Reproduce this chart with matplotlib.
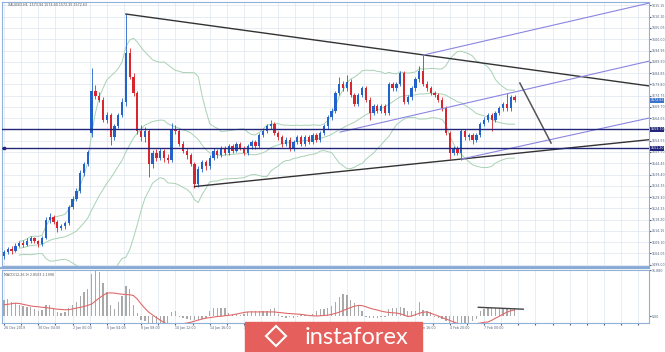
import numpy as np
import pandas as pd
import matplotlib
matplotlib.use('Agg')
import matplotlib.pyplot as plt
from matplotlib.patches import Rectangle, Polygon

# XAUUSD H4 candles
opens = [1503.0, 1504.5, 1506.0, 1505.2, 1507.5, 1508.8, 1507.9, 1509.6, 1510.8, 1509.4,
         1508.2, 1511.0, 1519.0, 1520.5, 1518.0, 1515.5, 1516.2, 1517.5, 1524.8, 1528.5,
         1532.0, 1540.0, 1544.0, 1558.0, 1577.0, 1574.5, 1573.0, 1564.0, 1566.0, 1556.0,
         1561.0, 1566.0, 1572.0, 1594.0, 1583.0, 1576.0, 1559.0, 1556.0, 1559.0, 1544.0,
         1549.0, 1547.0, 1550.0, 1547.0, 1546.0, 1560.0, 1558.8, 1553.0, 1550.0, 1548.0,
         1544.0, 1535.0, 1542.0, 1545.0, 1543.0, 1547.0, 1550.0, 1548.0, 1551.0, 1549.0,
         1552.0, 1550.0, 1553.0, 1551.0, 1549.0, 1552.0, 1554.0, 1552.0, 1557.0, 1559.0,
         1561.0, 1562.0, 1558.0, 1556.0, 1553.0, 1555.0, 1551.0, 1554.0, 1556.0, 1553.0,
         1556.0, 1554.0, 1557.0, 1555.0, 1558.0, 1561.0, 1565.0, 1568.0, 1576.0, 1580.0,
         1578.0, 1581.0, 1575.0, 1571.0, 1575.0, 1578.0, 1573.0, 1567.0, 1570.0, 1568.0,
         1570.0, 1567.0, 1580.0, 1578.0, 1580.0, 1585.0, 1572.0, 1574.0, 1578.0, 1582.0,
         1586.0, 1580.0, 1578.0, 1576.0, 1575.0, 1573.0, 1569.0, 1558.0, 1549.0, 1551.0,
         1549.0, 1559.0, 1556.0, 1557.0, 1555.0, 1557.0, 1562.0, 1564.0, 1566.0, 1564.0,
         1567.0, 1569.0, 1571.0, 1569.0, 1574.0]
highs = [1505.5, 1507.0, 1507.2, 1508.5, 1509.8, 1510.0, 1510.8, 1512.0, 1511.6, 1510.2,
         1512.0, 1520.2, 1522.0, 1521.4, 1519.0, 1517.4, 1518.6, 1525.8, 1529.6, 1533.2,
         1541.2, 1545.2, 1550.5, 1587.0, 1579.5, 1576.5, 1574.0, 1567.2, 1567.0, 1562.0,
         1567.0, 1573.5, 1611.3, 1596.0, 1585.0, 1577.0, 1561.5, 1560.5, 1560.0, 1550.5,
         1551.0, 1551.5, 1551.0, 1548.5, 1562.5, 1561.5, 1559.8, 1554.5, 1551.5, 1549.2,
         1545.0, 1543.0, 1546.0, 1546.0, 1548.0, 1551.2, 1551.0, 1552.0, 1552.0, 1553.0,
         1553.0, 1554.0, 1554.0, 1552.0, 1553.0, 1555.0, 1555.0, 1558.0, 1560.0, 1562.0,
         1564.0, 1563.0, 1559.0, 1557.0, 1556.0, 1556.0, 1555.0, 1557.0, 1557.0, 1557.0,
         1557.0, 1558.0, 1558.0, 1559.0, 1562.0, 1566.0, 1569.0, 1577.0, 1583.0, 1581.5,
         1584.0, 1582.0, 1576.0, 1576.0, 1579.0, 1579.0, 1574.0, 1571.0, 1571.0, 1571.0,
         1571.0, 1581.0, 1581.0, 1581.0, 1586.0, 1586.0, 1575.0, 1579.0, 1583.0, 1588.0,
         1593.0, 1581.5, 1579.0, 1577.0, 1576.0, 1574.0, 1570.0, 1559.0, 1552.0, 1552.0,
         1560.0, 1560.0, 1558.0, 1558.0, 1558.0, 1563.0, 1565.0, 1567.0, 1567.0, 1568.0,
         1570.0, 1572.0, 1576.0, 1575.0, 1575.0]
lows = [1501.5, 1503.8, 1504.0, 1504.6, 1506.8, 1507.0, 1507.2, 1508.9, 1508.6, 1507.1,
        1507.5, 1510.4, 1517.8, 1517.0, 1513.8, 1514.6, 1515.0, 1516.9, 1523.9, 1527.6,
        1531.2, 1538.8, 1543.0, 1556.0, 1573.2, 1571.8, 1563.0, 1562.5, 1552.5, 1555.0,
        1560.2, 1565.0, 1570.0, 1582.0, 1574.5, 1557.5, 1554.5, 1554.0, 1538.5, 1542.5,
        1545.5, 1545.8, 1545.0, 1544.5, 1545.0, 1557.5, 1552.0, 1549.0, 1546.5, 1543.0,
        1533.5, 1534.0, 1540.5, 1541.5, 1542.0, 1546.0, 1547.0, 1547.2, 1548.0, 1548.2,
        1549.0, 1549.3, 1550.2, 1548.0, 1548.2, 1551.0, 1551.0, 1551.2, 1556.0, 1558.0,
        1560.0, 1557.0, 1555.0, 1551.8, 1552.0, 1549.8, 1550.0, 1553.0, 1552.0, 1552.0,
        1553.0, 1553.0, 1554.0, 1554.0, 1557.0, 1560.0, 1564.0, 1567.0, 1575.0, 1577.0,
        1577.0, 1574.0, 1570.0, 1570.0, 1574.0, 1572.0, 1564.0, 1566.0, 1567.0, 1567.0,
        1566.0, 1566.0, 1577.0, 1577.0, 1579.0, 1571.0, 1571.0, 1573.0, 1577.0, 1581.0,
        1579.0, 1577.0, 1575.0, 1574.0, 1572.0, 1568.0, 1557.0, 1546.5, 1548.0, 1548.0,
        1546.0, 1555.0, 1555.0, 1553.0, 1554.0, 1556.0, 1561.0, 1563.0, 1559.0, 1563.0,
        1566.0, 1568.0, 1568.0, 1568.0, 1572.0]
closes = [1504.5, 1506.0, 1505.2, 1507.5, 1508.8, 1507.9, 1509.6, 1510.8, 1509.4, 1508.2,
          1511.0, 1519.0, 1520.5, 1518.0, 1515.5, 1516.2, 1517.5, 1524.8, 1528.5, 1532.0,
          1540.0, 1544.0, 1549.5, 1577.0, 1574.5, 1573.0, 1564.0, 1566.0, 1556.0, 1561.0,
          1566.0, 1572.0, 1594.0, 1583.0, 1576.0, 1559.0, 1556.0, 1559.0, 1544.0, 1549.0,
          1547.0, 1550.0, 1547.0, 1546.0, 1560.0, 1558.8, 1553.0, 1550.0, 1548.0, 1544.0,
          1535.0, 1542.0, 1545.0, 1543.0, 1547.0, 1550.0, 1548.0, 1551.0, 1549.0, 1552.0,
          1550.0, 1553.0, 1551.0, 1549.0, 1552.0, 1554.0, 1552.0, 1557.0, 1559.0, 1561.0,
          1562.0, 1558.0, 1556.0, 1553.0, 1555.0, 1551.0, 1554.0, 1556.0, 1553.0, 1556.0,
          1554.0, 1557.0, 1555.0, 1558.0, 1561.0, 1565.0, 1568.0, 1576.0, 1580.0, 1578.0,
          1581.0, 1575.0, 1571.0, 1575.0, 1578.0, 1573.0, 1567.0, 1570.0, 1568.0, 1570.0,
          1567.0, 1580.0, 1578.0, 1580.0, 1585.0, 1572.0, 1574.0, 1578.0, 1582.0, 1586.0,
          1580.0, 1578.0, 1576.0, 1575.0, 1573.0, 1569.0, 1558.0, 1549.0, 1551.0, 1549.0,
          1559.0, 1556.0, 1557.0, 1555.0, 1557.0, 1562.0, 1564.0, 1566.0, 1564.0, 1567.0,
          1569.0, 1571.0, 1569.0, 1574.0, 1573.0]

# MACD(12,26,9) main histogram and signal line
macd_main = [6.0, 6.2, 5.2, 4.6, 4.2, 3.6, 3.4, 3.2, 2.4, 2.0,
             2.2, 4.0, 4.2, 2.6, 1.4, 1.2, 1.3, 3.0, 4.0, 5.0,
             7.5, 8.8, 10.0, 15.5, 16.9, 16.0, 12.0, 9.0, 4.0, 2.5,
             5.0, 7.5, 11.0, 10.0, 4.0, 1.0, -1.5, -1.8, -2.8, -3.0,
             -3.2, -3.0, -3.2, -2.8, 1.5, 1.8, -0.5, -0.8, -1.2, -1.3,
             -1.5, -1.4, -1.2, -0.9, 2.0, 2.8, 3.0, 3.1, 3.0, 1.0,
             0.8, 0.6, 0.5, 0.8, 1.6, 1.8, 1.8, 1.9, 2.0, 2.0,
             2.4, 3.0, 0.6, -0.5, -0.6, -0.5, -0.6, -0.4, 0.4, 0.5,
             0.4, 0.6, 2.0, 2.5, 2.6, 3.0, 3.6, 5.0, 7.0, 8.0,
             7.6, 6.0, 4.8, 4.0, 2.0, -0.5, -0.7, -0.6, -0.6, -0.5,
             -0.4, 2.5, 3.0, 3.0, 3.2, 2.8, 2.0, 1.8, 2.0, 5.0,
             2.2, 1.8, 1.6, -0.4, -0.8, -1.2, -1.8, -2.5, -3.0, -3.2,
             -3.3, -3.0, -2.6, -1.8, -1.0, 1.8, 2.4, 2.8, 2.8, 2.8,
             2.9, 2.9, 2.8, 2.9, 2.9]
macd_signal = [4.1, 4.3, 4.5, 4.7, 4.6, 4.3, 4.0, 3.7, 3.5, 3.4,
               3.2, 3.1, 2.9, 2.7, 2.5, 2.4, 2.3, 2.3, 2.6, 2.9,
               3.2, 3.5, 3.9, 4.4, 5.5, 6.6, 7.6, 8.4, 8.5, 8.4,
               8.2, 8.0, 7.9, 7.8, 7.5, 6.2, 4.4, 2.8, 1.4, 0.4,
               -0.6, -1.5, -2.4, -3.0, -3.3, -3.2, -3.0, -2.8, -2.6, -2.3,
               -1.9, -1.5, -1.1, -0.8, -0.6, -0.4, -0.2, -0.1, 0.1, 0.3,
               0.4, 0.7, 1.0, 1.3, 1.5, 1.5, 1.5, 1.5, 1.5, 1.5,
               1.5, 1.5, 1.3, 1.2, 1.0, 0.9, 0.8, 0.7, 0.6, 0.4,
               0.2, 0.1, 0.0, 0.1, 0.2, 0.3, 0.6, 1.0, 1.4, 2.0,
               2.6, 3.1, 3.6, 3.9, 3.8, 3.4, 2.9, 2.5, 2.2, 1.8,
               1.5, 1.3, 1.2, 1.1, 0.8, 0.4, -0.2, 0.0, 0.5, 1.0,
               1.4, 1.5, 1.0, 0.5, 0.0, -0.6, -1.1, -1.6, -2.2, -2.7,
               -3.2, -3.3, -3.2, -3.0, -2.8, -2.6, -2.3, -2.2, -1.6, -0.8,
               -0.1, 0.7, 1.4, 1.9, 2.2]

date_labels = ['26 Dec 2019', '30 Dec 04:00', '2 Jan 00:00', '6 Jan 04:00', '8 Jan 08:00',
               '10 Jan 12:00', '14 Jan 16:00', '16 Jan 20:00', '21 Jan 00:00', '23 Jan 04:00',
               '27 Jan 08:00', '29 Jan 12:00', '31 Jan 16:00', '4 Feb 20:00', '7 Feb 00:00']
price_ticks = [1499.00, 1504.05, 1509.10, 1514.15, 1519.20, 1524.25, 1529.30, 1534.35,
               1539.40, 1544.45, 1549.50, 1554.55, 1559.60, 1564.65, 1569.70, 1574.75,
               1579.80, 1584.85, 1589.90, 1594.95, 1600.00, 1605.05, 1610.10, 1615.15]

# drawn objects: (bar index, price) end points
upper_trend = [(32, 1611.3), (169.3, 1579.1)]
lower_trend = [(50, 1534.0), (169.3, 1555.0)]
channel_top = [(110, 1592.9), (169.3, 1616.2)]
channel_mid = [(88.2, 1558.4), (169.3, 1590.2)]
channel_low = [(120, 1546.3), (169.3, 1564.7)]
arrow_line = [(135.4, 1580.4), (143.6, 1553.5)]
hlines = [1559.7, 1551.2]
current_price = 1572.63
macd_line = [(124.5, 3.2), (136.3, 2.5)]

grid_c = '#dfe5ef'
axis_c = '#8fb0d8'
lab_c = '#4f5f7d'
bull_c = '#2163c8'
bear_c = '#d8262f'
fs = 2.3

fig = plt.figure(figsize=(6.65, 3.52), dpi=100)
ax = fig.add_axes([2/665, 1-266/352, 647/665, 264/352])
axm = fig.add_axes([2/665, 1-323/352, 647/665, 53/352])

xlim = (-0.52, 169.3)
idx = np.arange(len(closes))
o = np.array(opens); h = np.array(highs); l = np.array(lows); c = np.array(closes)
cols = np.where(c >= o, bull_c, bear_c)

# bollinger bands 20, 2
s = pd.Series(closes)
mid = s.rolling(20, min_periods=5).mean()
sd = s.rolling(20, min_periods=5).std(ddof=0)
for band in (mid + 2*sd, mid, mid - 2*sd):
    ax.plot(idx, band, color='#a8d2b4', lw=0.7, zorder=2)

ax.vlines(idx, l, h, colors=cols, lw=0.6, zorder=3)
ax.bar(idx, np.maximum(np.abs(c - o), 0.3), bottom=np.minimum(o, c), width=0.6,
       color=cols, zorder=4)

for ln in (upper_trend, lower_trend):
    ax.plot([p[0] for p in ln], [p[1] for p in ln], color='#333333', lw=1.0, zorder=5)
for ln in (channel_top, channel_mid, channel_low):
    ax.plot([p[0] for p in ln], [p[1] for p in ln], color='#8a86e0', lw=0.8, zorder=5)
ax.plot([p[0] for p in arrow_line], [p[1] for p in arrow_line], color='#555555', lw=1.1, zorder=5)
for y in hlines:
    ax.axhline(y, color='#22267a', lw=1.0, zorder=5)
ax.plot([0], [hlines[1]], marker='s', ms=2, color='#22267a', clip_on=False, zorder=6)

ax.set_xlim(*xlim)
ax.set_ylim(1498.4, 1616.7)
ax.set_yticks(price_ticks)
ax.set_yticklabels(['%.2f' % v for v in price_ticks])
ax.yaxis.tick_right()
ax.tick_params(axis='y', labelsize=fs, length=1.2, pad=0.5, colors=lab_c)
grid_x = np.arange(0, 170, 4.5)
ax.set_xticks(grid_x)
ax.tick_params(axis='x', length=0, labelbottom=False)
ax.grid(True, color=grid_c, lw=0.5, zorder=0)

for y, fc in ((hlines[0], '#22267a'), (hlines[1], '#22267a'), (current_price, '#3d73c9')):
    ax.text(1.002, y, '%.2f' % y, transform=ax.get_yaxis_transform(), fontsize=fs,
            color='white', va='center', ha='left',
            bbox=dict(boxstyle='square,pad=0.15', fc=fc, ec='none'), zorder=7)

# MACD panel
axm.bar(idx, macd_main, width=0.35, color='#a9a9a9', zorder=3)
axm.plot(idx, macd_signal, color='#e06a6a', lw=0.8, zorder=4)
axm.plot([p[0] for p in macd_line], [p[1] for p in macd_line], color='#444444', lw=1.0, zorder=5)
axm.set_xlim(*xlim)
axm.set_ylim(-2.57, 16.9)
axm.yaxis.tick_right()
axm.set_yticks([0, 16.88])
axm.set_yticklabels(['0.00', '16.880'])
axm.tick_params(axis='y', labelsize=fs, length=1.2, pad=0.5, colors=lab_c)
axm.set_xticks(grid_x)
axm.set_xticklabels([date_labels[k // 2] if k % 2 == 0 and k // 2 < len(date_labels) else ''
                     for k in range(len(grid_x))], ha='left')
axm.tick_params(axis='x', labelsize=fs, length=1.5, pad=1, colors=lab_c)
axm.grid(True, axis='x', color=grid_c, lw=0.5, zorder=0)

for a in (ax, axm):
    for sp in a.spines.values():
        sp.set_color(axis_c)
        sp.set_linewidth(0.8)
    a.set_facecolor('white')

fig.add_artist(plt.Line2D([0, 649/665], [1-268/352]*2, color='#8aaad6', lw=1.6))

fig.text(8/665, 1-5/352, 'XAUUSD,H4  1573.94 1574.60 1572.35 1572.63', fontsize=fs,
         color='#555555', va='center')
fig.text(4/665, 1-275/352, 'MACD(12,26,9) 2.8503 2.1998', fontsize=fs,
         color='#555555', va='center')

# instaforex logo
fig.add_artist(Rectangle((245/665, 0), 177/665, 30/352, transform=fig.transFigure,
                         color='#e5605c', zorder=10))
fig.add_artist(Polygon([(266/665, 1-336/352), (276/665, 1-326/352), (286/665, 1-336/352),
                        (276/665, 1-346/352)], closed=True, transform=fig.transFigure,
                       fc='none', ec='white', lw=1.5, zorder=11))
fig.text(356/665, 1-337/352, 'instaforex', fontsize=17, color='white', family='Lato',
         ha='center', va='center', zorder=12)

fig.savefig('out.png', dpi=100, facecolor='white')
